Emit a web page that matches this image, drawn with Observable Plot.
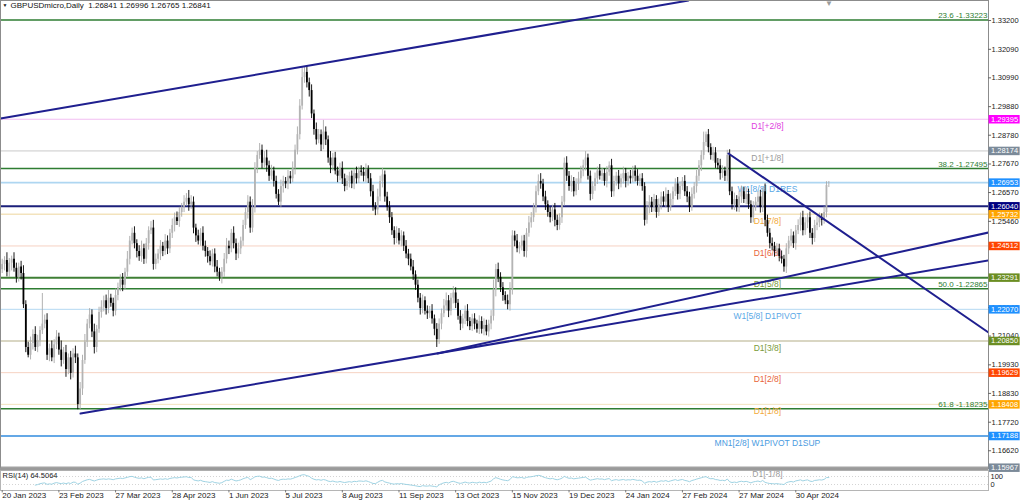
<!DOCTYPE html>
<html><head><meta charset="utf-8">
<script src="https://cdn.jsdelivr.net/npm/d3@7"></script>
<script src="https://cdn.jsdelivr.net/npm/@observablehq/plot@0.6"></script>
<style>
body{margin:0;background:#fff;width:1024px;height:502px;overflow:hidden;font-family:"Liberation Sans",Arial,sans-serif}
#chart svg{display:block;overflow:visible}
</style></head><body><div id="chart"></div>
<script>
// ---------- data ----------
const header = "GBPUSDmicro,Daily  1.26841 1.26996 1.26765 1.26841";
const rsiLabel = "RSI(14) 64.5064";
const firstOpen = 1.2360;
const closes = [
1.2380,1.2395,1.2350,1.2385,1.2400,1.2365,1.2330,1.2370,1.2345,1.2225,
1.2060,1.2030,1.2075,1.2110,1.2060,1.2085,1.2125,1.2150,1.2165,1.2030,
1.2055,1.2020,1.2070,1.2100,1.2050,1.2010,1.2040,1.1975,1.2020,1.1960,
1.2035,1.2020,1.1840,1.1900,1.2010,1.2080,1.2150,1.2185,1.2120,1.2060,
1.2130,1.2195,1.2215,1.2240,1.2210,1.2250,1.2230,1.2200,1.2260,1.2290,
1.2320,1.2300,1.2350,1.2400,1.2470,1.2500,1.2460,1.2430,1.2410,1.2440,
1.2400,1.2460,1.2510,1.2520,1.2380,1.2400,1.2420,1.2450,1.2430,1.2470,
1.2440,1.2500,1.2530,1.2560,1.2545,1.2580,1.2600,1.2620,1.2635,1.2610,
1.2620,1.2520,1.2490,1.2470,1.2500,1.2450,1.2430,1.2410,1.2390,1.2420,
1.2370,1.2350,1.2330,1.2350,1.2400,1.2450,1.2440,1.2500,1.2460,1.2420,
1.2440,1.2470,1.2530,1.2580,1.2620,1.2520,1.2600,1.2750,1.2800,1.2820,
1.2770,1.2790,1.2760,1.2720,1.2740,1.2700,1.2650,1.2620,1.2680,1.2700,
1.2690,1.2720,1.2710,1.2750,1.2820,1.2880,1.2990,1.3100,1.3120,1.3080,
1.3050,1.2960,1.2900,1.2860,1.2880,1.2840,1.2890,1.2860,1.2790,1.2760,
1.2790,1.2740,1.2720,1.2750,1.2710,1.2680,1.2700,1.2720,1.2690,1.2730,
1.2710,1.2740,1.2735,1.2720,1.2745,1.2710,1.2660,1.2600,1.2590,1.2640,
1.2700,1.2725,1.2640,1.2600,1.2560,1.2510,1.2480,1.2500,1.2470,1.2490,
1.2450,1.2420,1.2400,1.2370,1.2340,1.2300,1.2250,1.2210,1.2240,1.2200,
1.2190,1.2200,1.2170,1.2130,1.2090,1.2150,1.2190,1.2220,1.2240,1.2200,
1.2250,1.2270,1.2230,1.2180,1.2150,1.2170,1.2200,1.2160,1.2140,1.2170,
1.2150,1.2130,1.2160,1.2130,1.2145,1.2120,1.2150,1.2180,1.2280,1.2360,
1.2330,1.2290,1.2260,1.2240,1.2225,1.2280,1.2490,1.2470,1.2440,1.2450,
1.2470,1.2430,1.2500,1.2540,1.2560,1.2600,1.2660,1.2700,1.2690,1.2640,
1.2610,1.2580,1.2560,1.2590,1.2550,1.2530,1.2560,1.2620,1.2770,1.2720,
1.2680,1.2700,1.2660,1.2690,1.2710,1.2740,1.2760,1.2790,1.2720,1.2650,
1.2680,1.2710,1.2740,1.2720,1.2730,1.2700,1.2735,1.2760,1.2660,1.2700,
1.2720,1.2690,1.2710,1.2730,1.2700,1.2720,1.2710,1.2740,1.2720,1.2700,
1.2710,1.2680,1.2550,1.2600,1.2620,1.2600,1.2630,1.2580,1.2610,1.2640,
1.2620,1.2650,1.2600,1.2630,1.2660,1.2690,1.2650,1.2680,1.2700,1.2660,
1.2640,1.2600,1.2650,1.2680,1.2720,1.2760,1.2800,1.2850,1.2880,1.2830,
1.2800,1.2810,1.2770,1.2760,1.2730,1.2740,1.2720,1.2800,1.2660,1.2610,
1.2630,1.2600,1.2640,1.2660,1.2630,1.2650,1.2610,1.2560,1.2600,1.2620,
1.2640,1.2600,1.2660,1.2550,1.2500,1.2460,1.2450,1.2430,1.2440,1.2410,
1.2400,1.2370,1.2440,1.2470,1.2490,1.2460,1.2510,1.2530,1.2560,1.2510,
1.2540,1.2560,1.2500,1.2480,1.2530,1.2540,1.2560,1.2550,1.2580,1.2684,
1.26841];
// upper / lower wick lengths in pips
const wickUp = [
20,15,30,18,12,25,20,15,22,30, 15,20,25,18,30,22,15,118,20,25,
18,30,20,25,15,35,20,28,15,25, 20,30,15,25,20,30,18,25,20,30,
15,20,25,18,22,30,15,20,25,18, 20,25,15,30,18,20,25,15,22,30,
18,20,15,25,30,20,18,22,15,25, 20,15,25,18,22,20,15,25,18,30,
25,20,15,22,18,25,20,15,22,18, 20,25,15,18,22,30,20,15,25,18,
22,15,20,18,25,20,30,22,15,26, 20,25,30,18,22,15,20,18,25,20,
15,22,18,25,20,30,25,39,20,25, 18,22,15,25,20,18,45,20,15,25,
18,22,15,20,25,18,22,15,20,18, 25,15,20,18,22,15,20,25,18,30,
20,25,15,18,22,20,15,25,18,20, 15,22,18,20,25,15,20,18,22,15,
20,18,25,15,22,20,18,25,30,20, 18,25,20,15,22,18,20,25,15,18,
20,15,22,18,25,20,15,22,40,20, 25,18,20,15,22,30,20,18,25,15,
20,22,18,25,20,15,22,25,30,18, 22,15,20,18,25,20,15,22,20,25,
18,22,15,20,25,18,22,25,15,20, 18,22,15,25,20,18,22,15,25,20,
15,22,18,25,20,15,22,18,20,25, 18,20,15,22,25,18,20,15,22,18,
20,25,15,22,18,20,25,18,15,22, 20,18,25,15,22,20,18,40,10,20,
15,22,20,18,25,20,15,20,22,18, 25,15,20,22,18,25,20,15,22,18,
20,25,15,30,20,18,22,15,20,18, 22,15,20,18,25,15,20,22,18,25,
20,15,22,18,20,25,18,15,22,15, 15.5];
const wickDn = [
15,25,18,20,30,15,22,18,25,15, 20,10,18,25,15,20,22,15,18,20,
25,15,22,18,20,25,15,30,20,25, 18,22,20,20,25,15,20,18,22,25,
20,15,22,18,25,20,15,22,18,20, 15,25,20,18,22,15,20,25,18,22,
20,18,25,15,22,20,18,25,20,15, 22,18,20,25,15,22,18,20,15,25,
18,22,25,15,20,18,22,25,15,20, 22,18,15,25,20,18,22,15,20,25,
18,22,20,15,25,20,18,22,20,15, 22,18,25,20,15,22,18,13,20,25,
18,22,20,15,25,18,20,15,22,20, 25,18,22,20,15,25,18,22,20,30,
20,15,25,18,22,20,15,25,18,22, 20,18,15,22,25,18,20,15,22,20,
18,25,20,15,22,18,25,20,15,22, 20,18,25,15,22,20,18,25,20,15,
22,18,20,25,30,18,22,15,20,25, 18,22,20,15,25,18,22,20,15,18,
22,15,20,18,25,15,20,22,18,25, 20,18,22,15,20,25,18,22,15,20,
18,22,25,15,20,18,22,15,20,18, 22,18,20,15,25,20,18,22,15,20,
18,22,20,15,25,18,22,20,15,25, 20,18,22,15,20,18,25,15,22,20,
18,22,15,20,25,18,20,15,22,18, 20,18,22,15,25,20,18,22,15,20,
18,22,20,15,25,18,22,20,15,18, 22,20,15,18,25,20,22,18,15,20,
18,22,20,15,25,18,20,22,15,20, 22,18,20,25,15,20,18,22,20,15,
18,22,20,25,15,20,18,22,15,20, 18,20,25,22,20,18,25,15,22,20,
18,22,20,25,15,20,18,22,15,20, 7.6];

const dateLabels = ["20 Jan 2023","23 Feb 2023","27 Mar 2023","28 Apr 2023","1 Jun 2023","5 Jul 2023","8 Aug 2023","11 Sep 2023","13 Oct 2023","15 Nov 2023","19 Dec 2023","24 Jan 2024","27 Feb 2024","27 Mar 2024","30 Apr 2024"];
const dateTickIdx = [0,24,48,72,96,120,144,168,192,216,240,264,288,312,336];
// visible price-scale labels (the ones hidden under level boxes are left out)
const priceTicks = [1.33200,1.32090,1.30990,1.29880,1.28780,1.27670,1.26570,1.25460,1.22140,1.21040,1.19930,1.18830,1.17720,1.16620];

// Murrey / pivot levels
const levelPrices = [1.29395,1.28174,1.26953,1.26040,1.25732,1.24512,1.23291,1.22070,1.20850,1.19629,1.18408,1.17188,1.15967];
const levelTexts  = ["D1[+2/8]","D1[+1/8]","W1[8/8] D1RES","","D1[7/8]","D1[6/8]","D1[5/8]","W1[5/8] D1PIVOT","D1[3/8]","D1[2/8]","D1[1/8]","MN1[2/8] W1PIVOT D1SUP","D1[-1/8]"];
const levelLineColors = ["#f2bdf2","#c9c9c9","#aed6f1","#1b1f7a","#f3e3bd","#f6d2c2","#3f7f35","#b3d8f2","#d9d6c3","#f6d2c2","#f3e3bd","#64a8e6","#a3a3a3"];
const levelWidths = [1,1,1.6,2,1.6,1,2,1,2,1,1,2,2.2];
const levelTextColors = ["#e040e0","#9a9a9a","#5aa8e6","#1b1f7a","#f2a93b","#e8643a","#7a9a3a","#5aa8e6","#7a9a3a","#e8643a","#f2a93b","#4a9be0","#9a9a9a"];
const levelBoxColors = ["#ff00ff","#7b8a99","#1e90ff","#000080","#ffa500","#ff4500","#6b8e23","#1e90ff","#6b8e23","#ff4500","#ffa500","#1e90ff","#7b8a99"];

// Fibonacci levels
const fibPrices = [1.33223,1.27495,1.22865,1.18235];
const fibNames  = ["23.6","38.2","50.0","61.8"];

// trendlines: [startIndex, startPrice, endIndex, endPrice]
const trendlines = [
  [-0.72,1.29424,290.6,1.33971],
  [33.15,1.18056,417.6,1.23951],
  [184.3,1.20368,417.6,1.25030],
  [307.5,1.28075,417.6,1.21177]
];

// ---------- build ----------
const xDomain = [-0.72, 417.6];
const yDomain = [1.15936, 1.33971];
const candles = closes.map((c, i) => {
  const o = i === 0 ? firstOpen : closes[i - 1];
  return {i, o, c, hi: Math.max(o, c) + wickUp[i] / 10000, lo: Math.min(o, c) - wickDn[i] / 10000, up: c >= o};
});
const bull = candles.filter(d => d.up), bear = candles.filter(d => !d.up);
const levels = levelPrices.map((p, k) => ({p, text: levelTexts[k], line: levelLineColors[k], w: levelWidths[k], tc: levelTextColors[k], box: levelBoxColors[k]}));
const fibs = fibPrices.map((p, k) => ({p, label: fibNames[k] + " -" + p.toFixed(5)}));
const tl = trendlines.flatMap((t, k) => [{id: k, x: t[0], y: t[1]}, {id: k, x: t[2], y: t[3]}]);
const labelX = 324;
const xMax = xDomain[1];

// RSI(14), Wilder smoothing on the closes
const rsi = [];
let ag = 0, al = 0;
for (let i = 1; i < closes.length; i++) {
  const ch = closes[i] - closes[i - 1];
  const g = Math.max(ch, 0), l = Math.max(-ch, 0);
  if (i <= 14) { ag += g / 14; al += l / 14; if (i === 14) rsi.push({i, v: 100 - 100 / (1 + ag / al)}); }
  else { ag = (ag * 13 + g) / 14; al = (al * 13 + l) / 14; rsi.push({i, v: al === 0 ? 100 : 100 - 100 / (1 + ag / al)}); }
}

const font = "'Liberation Sans', Arial, sans-serif";
const main = Plot.plot({
  width: 1024, height: 468,
  marginTop: 0, marginBottom: 0, marginLeft: 0, marginRight: 36,
  style: {fontFamily: font, fontSize: "8px", background: "white", overflow: "visible"},
  x: {domain: xDomain, axis: null},
  y: {domain: yDomain, axis: null},
  marks: [
    ...levels.map(l => Plot.ruleY([l.p], {stroke: l.line, strokeWidth: l.w})),
    ...fibs.map(f => Plot.ruleY([f.p], {stroke: "#2e7d32", strokeWidth: 1.5})),
    Plot.text(levels.filter(l => l.text), {x: labelX, y: "p", text: "text", fill: "tc", dy: 7, fontSize: 8.5, textAnchor: "middle"}),
    Plot.text(fibs, {x: xMax, y: "p", text: "label", fill: "#2e7d32", dx: -1, dy: -4.5, textAnchor: "end", fontSize: 8}),
    Plot.ruleX(bull, {x: "i", y1: "lo", y2: "hi", stroke: "#a9a9a9", strokeWidth: 0.9}),
    Plot.ruleX(bull, {x: "i", y1: "o", y2: "c", stroke: "#b4b4b4", strokeWidth: 1.8}),
    Plot.ruleX(bear, {x: "i", y1: "lo", y2: "hi", stroke: "#000", strokeWidth: 0.9}),
    Plot.ruleX(bear, {x: "i", y1: "o", y2: "c", stroke: "#000", strokeWidth: 1.8}),
    Plot.line(tl, {x: "x", y: "y", z: "id", stroke: "#1f1f8f", strokeWidth: 2, clip: true}),
    Plot.frame({stroke: "#8c8c8c"}),
    Plot.ruleY(priceTicks, {x1: xMax, x2: xMax + 1.3, stroke: "#666"}),
    Plot.text(priceTicks, {x: xMax, y: d => d, text: d => d.toFixed(5), dx: 3, textAnchor: "start", fill: "#222", fontSize: 7.5}),
    ...levels.map(l => Plot.ruleY([l.p], {x1: xMax + 0.25, x2: xMax + 13.4, stroke: l.box, strokeWidth: 8.5})),
    Plot.text(levels, {x: xMax, y: "p", text: d => d.p.toFixed(5), dx: 2.5, textAnchor: "start", fill: "white", fontSize: 7.5}),
    Plot.text([header], {frameAnchor: "top-left", dx: 10, dy: 2, fill: "#111", fontSize: 8}),
    Plot.text(["\u25BC"], {frameAnchor: "top-left", dx: 2, dy: 3, fill: "#111", fontSize: 5}),
    Plot.text(["\u25BC"], {x: closes.length - 1, frameAnchor: "top", dy: 0, fill: "#9a9a9a", fontSize: 8})
  ]
});

const lower = Plot.plot({
  width: 1024, height: 34,
  marginTop: 2, marginBottom: 12, marginLeft: 0, marginRight: 36,
  style: {fontFamily: font, fontSize: "8px", background: "white", overflow: "visible"},
  x: {domain: xDomain, axis: null},
  y: {domain: [0, 100], axis: null},
  marks: [
    Plot.ruleY([30, 70], {stroke: "#d4d4d4", strokeDasharray: "1,2"}),
    Plot.line(rsi, {x: "i", y: "v", stroke: "#9fd3e3", strokeWidth: 1}),
    Plot.frame({stroke: "#b5b5b5"}),
    Plot.ruleY([100], {stroke: "#9a9a9a", strokeWidth: 2.5, dy: -1.5}),
    Plot.text([rsiLabel], {frameAnchor: "top-left", dx: 2, dy: 2, fill: "#222", fontSize: 7.5}),
    Plot.ruleX(dateTickIdx, {x: d => d, y1: 0, y2: -12, stroke: "#777"}),
    Plot.text(dateTickIdx, {x: d => d, text: (d, k) => dateLabels[k], frameAnchor: "bottom", dy: 7, textAnchor: "start", fill: "#222", fontSize: 8}),
    Plot.text(["100"], {x: xMax, y: 72, dx: 2, textAnchor: "start", fill: "#222", fontSize: 7.5}),
    Plot.text(["0"], {x: xMax, y: 28, dx: 2, textAnchor: "start", fill: "#222", fontSize: 7.5})
  ]
});

document.getElementById("chart").append(main, lower);
</script></body></html>
